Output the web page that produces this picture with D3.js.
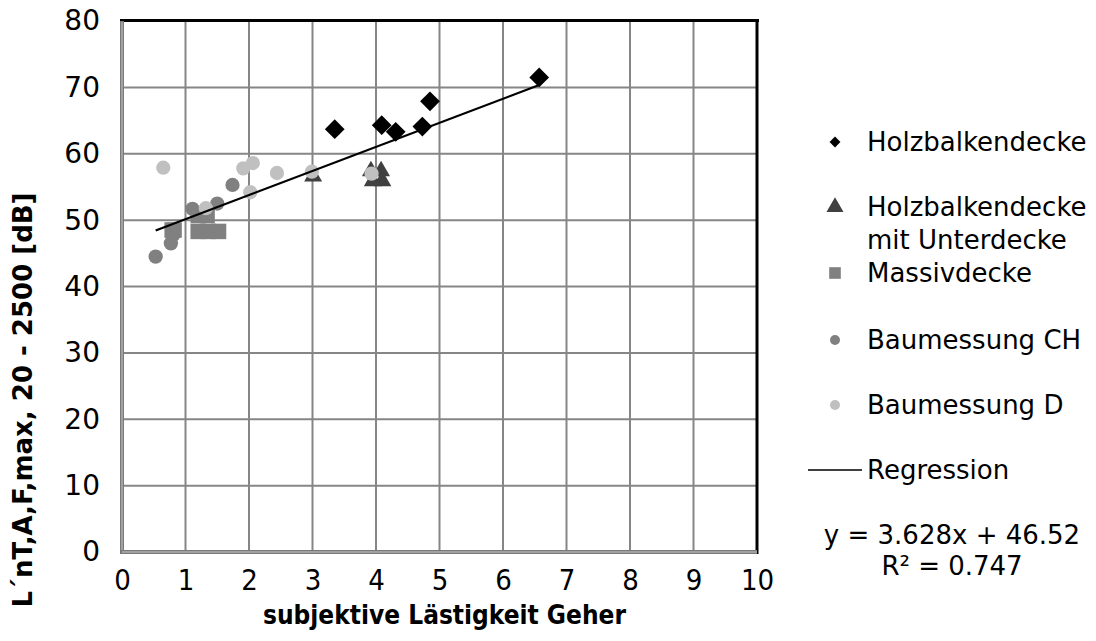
<!DOCTYPE html>
<html lang="de">
<head>
<meta charset="UTF-8">
<title>Lästigkeit Geher</title>
<script src="https://d3js.org/d3.v7.min.js"></script>
<style>
  body { margin: 0; background: #fff; }
  text { font-family: "DejaVu Sans", Verdana, sans-serif; fill: #000; }
  .xtick, .xtitle { font-stretch: condensed; }
</style>
</head>
<body>
<div id="chart"></div>
<script>
// values
var holzX = [3.35, 4.09, 4.31, 4.73, 4.85, 6.57];
var holzY = [63.7, 64.3, 63.3, 64.1, 67.9, 71.5];

var unterX = [3.01, 3.92, 4.08, 3.95, 4.10];
var unterY = [56.6, 57.4, 57.4, 55.9, 55.9];

var massivX = [0.79, 0.82, 1.20, 1.36, 1.52, 1.20, 1.34];
var massivY = [48.5, 48.5, 48.3, 48.3, 48.3, 50.7, 50.7];

var chX = [0.53, 0.77, 0.81, 1.11, 1.50, 1.74];
var chY = [44.5, 46.5, 47.8, 51.7, 52.5, 55.3];

var dX = [0.65, 1.32, 1.91, 2.02, 2.06, 2.44, 2.99, 3.93];
var dY = [57.9, 51.8, 57.8, 54.2, 58.6, 57.1, 57.3, 57.0];

var slope = 3.628, intercept = 46.52, r2 = 0.747;

var xTicks = [0, 1, 2, 3, 4, 5, 6, 7, 8, 9, 10];
var yTicks = [0, 10, 20, 30, 40, 50, 60, 70, 80];

var legendNames = ["Holzbalkendecke", "Holzbalkendecke\nmit Unterdecke", "Massivdecke", "Baumessung CH", "Baumessung D", "Regression"];

var W = 1096, H = 641;
var plot = {left: 122, right: 757, top: 21, bottom: 552};

var svg = d3.select("#chart").append("svg")
    .attr("width", W)
    .attr("height", H);

var x = d3.scaleLinear().domain([0, 10]).range([plot.left, plot.right]);
var y = d3.scaleLinear().domain([0, 80]).range([plot.bottom, plot.top]);

// grid
svg.append("g").selectAll("line").data(xTicks.slice(1, -1)).enter().append("line")
    .attr("x1", d => x(d)).attr("x2", d => x(d))
    .attr("y1", plot.top).attr("y2", plot.bottom)
    .attr("stroke", "#868686").attr("stroke-width", 2);
svg.append("g").selectAll("line").data(yTicks.slice(1, -1)).enter().append("line")
    .attr("x1", plot.left).attr("x2", plot.right)
    .attr("y1", d => y(d)).attr("y2", d => y(d))
    .attr("stroke", "#868686").attr("stroke-width", 2);

// frame: dark on top/right, double grey on left/bottom
svg.append("line").attr("x1", plot.left - 2).attr("x2", plot.right + 2)
    .attr("y1", plot.top - 0.5).attr("y2", plot.top - 0.5)
    .attr("stroke", "#000").attr("stroke-width", 3);
svg.append("line").attr("x1", plot.right).attr("x2", plot.right)
    .attr("y1", plot.top - 2).attr("y2", plot.bottom + 2)
    .attr("stroke", "#000").attr("stroke-width", 3);
svg.append("line").attr("x1", plot.left).attr("x2", plot.left)
    .attr("y1", plot.top).attr("y2", plot.bottom + 2)
    .attr("stroke", "#7a7a7a").attr("stroke-width", 4);
svg.append("line").attr("x1", plot.left).attr("x2", plot.left)
    .attr("y1", plot.top + 1).attr("y2", plot.bottom)
    .attr("stroke", "#c8c8c8").attr("stroke-width", 1);
svg.append("line").attr("x1", plot.left - 2).attr("x2", plot.right)
    .attr("y1", plot.bottom).attr("y2", plot.bottom)
    .attr("stroke", "#7a7a7a").attr("stroke-width", 4);
svg.append("line").attr("x1", plot.left).attr("x2", plot.right)
    .attr("y1", plot.bottom).attr("y2", plot.bottom)
    .attr("stroke", "#c8c8c8").attr("stroke-width", 1);

// axes tick labels
var xAxis = d3.axisBottom(x).tickValues(xTicks).tickSize(0).tickPadding(17);
var gx = svg.append("g").attr("transform", "translate(0," + plot.bottom + ")").call(xAxis);
gx.select(".domain").remove();
gx.selectAll("text").attr("class", "xtick").style("font-size", "29px")
    .style("font-family", "DejaVu Sans").attr("fill", "#000");

var yAxis = d3.axisLeft(y).tickValues(yTicks).tickSize(0).tickPadding(22);
var gy = svg.append("g").attr("transform", "translate(" + plot.left + ",0)").call(yAxis);
gy.select(".domain").remove();
gy.selectAll("text").style("font-size", "28px")
    .style("font-family", "DejaVu Sans").attr("fill", "#000");

svg.append("text").attr("class", "xtitle")
    .attr("x", (plot.left + plot.right) / 2 + 5).attr("y", 624)
    .attr("text-anchor", "middle")
    .style("font-size", "26px").style("font-weight", "bold")
    .text("subjektive Lästigkeit Geher");

svg.append("text")
    .attr("transform", "translate(32,400) rotate(-90)")
    .attr("text-anchor", "middle")
    .style("font-size", "26px").style("font-weight", "bold")
    .text("L´nT,A,F,max, 20 - 2500 [dB]");

// markers
var symDiamond = d3.symbol().type(d3.symbolSquare).size(195);
var symTri = d3.symbol().type(d3.symbolTriangle).size(140);
var symSquare = d3.symbol().type(d3.symbolSquare).size(240);
var symCircle = d3.symbol().type(d3.symbolCircle).size(160);

function drawSeries(xs, ys, sym, fill, rot) {
  svg.append("g").selectAll("path").data(d3.zip(xs, ys)).enter().append("path")
      .attr("d", sym)
      .attr("transform", d => "translate(" + x(d[0]) + "," + y(d[1]) + ")" + (rot ? " rotate(45)" : ""))
      .attr("fill", fill);
}

drawSeries(holzX, holzY, symDiamond, "#000000", true);
drawSeries(unterX, unterY, symTri, "#404040", false);
drawSeries(massivX, massivY, symSquare, "#808080", false);
drawSeries(chX, chY, symCircle, "#808080", false);
drawSeries(dX, dY, symCircle, "#c0c0c0", false);

// regression line over the range of the data
var allX = holzX.concat(unterX, massivX, chX, dX);
var xr = d3.extent(allX);
svg.append("path")
    .datum(xr)
    .attr("d", d3.line().x(d => x(d)).y(d => y(slope * d + intercept)))
    .attr("stroke", "#000").attr("stroke-width", 2.2).attr("fill", "none");

// legend
var lgX = 835, lgText = 867;
var lgY = [142, 207, 273, 340, 405, 470];
var lgSym = [
  {s: symDiamond, f: "#000", r: true, scale: 0.55},
  {s: symTri, f: "#404040", r: false, scale: 0.95},
  {s: symSquare, f: "#808080", r: false, scale: 0.75},
  {s: symCircle, f: "#808080", r: false, scale: 0.7},
  {s: symCircle, f: "#c0c0c0", r: false, scale: 0.7}
];
var lg = svg.append("g");
lgSym.forEach(function(m, i) {
  lg.append("path").attr("d", m.s)
    .attr("transform", "translate(" + lgX + "," + lgY[i] + ") scale(" + m.scale + ")" + (m.r ? " rotate(45)" : ""))
    .attr("fill", m.f);
});
lg.append("line").attr("x1", 808).attr("x2", 862)
    .attr("y1", lgY[5]).attr("y2", lgY[5])
    .attr("stroke", "#000").attr("stroke-width", 1.5);
legendNames.forEach(function(name, i) {
  var t = lg.append("text").attr("x", lgText).attr("y", lgY[i])
      .style("font-size", "26px");
  name.split("\n").forEach(function(line, j) {
    t.append("tspan").attr("x", lgText).attr("dy", j === 0 ? "0.36em" : "33px").text(line);
  });
});

svg.append("text").attr("x", 952).attr("y", 535).attr("dy", "0.36em")
    .attr("text-anchor", "middle").style("font-size", "26px")
    .text("y = " + slope + "x + " + intercept);
svg.append("text").attr("x", 952).attr("y", 566).attr("dy", "0.36em")
    .attr("text-anchor", "middle").style("font-size", "26px")
    .text("R² = " + r2);
</script>
</body>
</html>
